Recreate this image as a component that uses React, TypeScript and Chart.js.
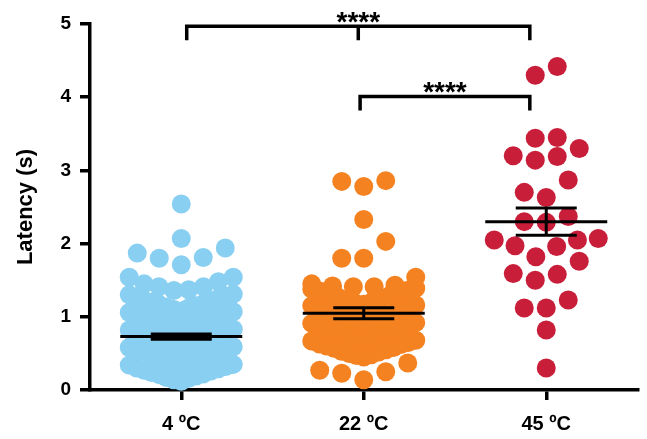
import React, { useEffect, useRef } from 'react';
import { Chart, registerables } from 'chart.js';

Chart.register(...registerables);

// ---------- data ----------
const categories = ['4 ºC', '22 ºC', '45 ºC'];

const latency4C = [
  0.12, 0.14, 0.16, 0.17, 0.19, 0.21, 0.22, 0.24, 0.26, 0.27, 0.29, 0.3, 0.32, 0.34, 0.35,
  0.36, 0.38, 0.39, 0.41, 0.42, 0.44, 0.45, 0.47, 0.48, 0.5, 0.51, 0.53, 0.54, 0.55, 0.57, 0.58, 0.59,
  0.6, 0.62, 0.63, 0.65, 0.66, 0.68, 0.69, 0.71, 0.72, 0.74, 0.75, 0.77, 0.78, 0.79, 0.81, 0.82, 0.83,
  0.84, 0.86, 0.87, 0.89, 0.9, 0.92, 0.93, 0.95, 0.96, 0.98, 0.99, 1.01, 1.02, 1.03, 1.05, 1.06, 1.07,
  1.08, 1.1, 1.12, 1.13, 1.15, 1.17, 1.18, 1.2, 1.22, 1.23, 1.25, 1.27, 1.28, 1.3, 1.31,
  1.36, 1.37, 1.41, 1.41, 1.45, 1.48, 1.54, 1.54,
  1.71, 1.8, 1.81, 1.87, 1.94,
  2.07, 2.54,
];

const latency22C = [
  0.14, 0.23, 0.25, 0.27, 0.37,
  0.45, 0.47, 0.48, 0.5, 0.52, 0.53, 0.55, 0.57, 0.58, 0.6, 0.62, 0.63, 0.65, 0.67, 0.68,
  0.69, 0.71, 0.72, 0.74, 0.76, 0.77, 0.79, 0.81, 0.82, 0.84, 0.86, 0.87, 0.89, 0.91, 0.92,
  0.93, 0.95, 0.96, 0.98, 1.0, 1.01, 1.03, 1.05, 1.06, 1.08, 1.1, 1.11, 1.13, 1.15, 1.16,
  1.17, 1.19, 1.21, 1.23, 1.25, 1.27, 1.29, 1.31, 1.33, 1.35, 1.36, 1.38, 1.39,
  1.41, 1.41, 1.42, 1.43, 1.45, 1.54,
  1.8, 1.8, 2.03,
  2.33,
  2.78, 2.85, 2.86,
];

const latency45C = [
  4.42, 4.3,
  3.44, 3.3, 3.45, 3.2, 3.14, 3.19,
  2.87, 2.63, 2.7,
  2.3, 2.29, 2.37,
  2.07, 2.05, 1.96, 1.97, 2.05,
  1.82, 1.76,
  1.59, 1.5, 1.58,
  1.23, 1.12, 1.12,
  0.82, 0.3,
];

const groupMeans = [0.73, 1.05, 2.3];
const groupSems = [0.035, 0.075, 0.185];

const yTicks = [0, 1, 2, 3, 4, 5];

// significance brackets (x in category units, y in seconds)
const bracketStart = [1.03, 1.98];
const bracketEnd = [2.91, 2.91];
const bracketMid: (number | null)[] = [1.97, null];
const bracketLevel = [4.97, 4.01];
const bracketLabel = ['****', '****'];

// ---------- styling / layout constants ----------
const pointColors = ['rgb(137,207,242)', 'rgb(245,130,32)', 'rgb(200,30,58)'];
const POINT_R = 9.5;
const ROW_SPANS = [0.24, 0.24, 0.3];
const MAX_GAP_PX = 22;
const MAX_SPAN_PX = 104;
const MEAN_HALF_PX = 61;
const CAP_HALF_PX = 30.5;
const FONT = '"Liberation Sans", Arial, Helvetica, sans-serif';

function swarmOffsets(values: number[], rowSpan: number, gapPx: number, maxSpanPx: number): number[] {
  const order = values.map((_, i) => i).sort((a, b) => values[a] - values[b]);
  const out = new Array(values.length).fill(0);
  let row: number[] = [];
  let start = -Infinity;
  const flush = () => {
    const n = row.length;
    const step = n > 1 ? Math.min(gapPx, maxSpanPx / (n - 1)) : 0;
    row.forEach((idx, k) => {
      let slot: number;
      if (n % 2 === 1) slot = k === 0 ? 0 : (k % 2 === 1 ? -1 : 1) * Math.ceil(k / 2);
      else slot = (k % 2 === 0 ? -1 : 1) * (Math.floor(k / 2) + 0.5);
      out[idx] = slot * step;
    });
    row = [];
  };
  for (const idx of order) {
    if (row.length && values[idx] >= start + rowSpan - 1e-9) flush();
    if (!row.length) start = values[idx];
    row.push(idx);
  }
  flush();
  return out;
}

const annotationPlugin = {
  id: 'annotations',
  afterDatasetsDraw(chart: any) {
    const { ctx, scales } = chart;
    const xs = scales.x;
    const ys = scales.y;
    ctx.save();
    ctx.strokeStyle = '#000';
    ctx.lineCap = 'butt';
    // mean +/- SEM
    ctx.lineWidth = 3;
    groupMeans.forEach((m, i) => {
      const cx = xs.getPixelForValue(i + 1);
      const ym = ys.getPixelForValue(m);
      const yHi = ys.getPixelForValue(m + groupSems[i]);
      const yLo = ys.getPixelForValue(m - groupSems[i]);
      ctx.beginPath();
      ctx.moveTo(cx - MEAN_HALF_PX, ym);
      ctx.lineTo(cx + MEAN_HALF_PX, ym);
      ctx.moveTo(cx, yHi);
      ctx.lineTo(cx, yLo);
      ctx.moveTo(cx - CAP_HALF_PX, yHi);
      ctx.lineTo(cx + CAP_HALF_PX, yHi);
      ctx.moveTo(cx - CAP_HALF_PX, yLo);
      ctx.lineTo(cx + CAP_HALF_PX, yLo);
      ctx.stroke();
    });
    // brackets
    ctx.lineWidth = 3.5;
    ctx.lineJoin = 'miter';
    const starSize = 28;
    bracketLevel.forEach((lvl, i) => {
      const x0 = xs.getPixelForValue(bracketStart[i]);
      const x1 = xs.getPixelForValue(bracketEnd[i]);
      const y = ys.getPixelForValue(lvl);
      const drop = 14;
      ctx.beginPath();
      ctx.moveTo(x0, y + drop);
      ctx.lineTo(x0, y);
      ctx.lineTo(x1, y);
      ctx.lineTo(x1, y + drop);
      const mid = bracketMid[i];
      if (mid !== null) {
        const xm = xs.getPixelForValue(mid);
        ctx.moveTo(xm, y);
        ctx.lineTo(xm, y + drop);
      }
      ctx.stroke();
      ctx.fillStyle = '#000';
      ctx.font = `bold ${starSize}px ${FONT}`;
      ctx.textAlign = 'center';
      ctx.textBaseline = 'alphabetic';
      const starCenter = y - 10.5;
      ctx.fillText(bracketLabel[i], (x0 + x1) / 2, starCenter + 0.55 * starSize);
    });
    ctx.restore();
  },
};

export default function App() {
  const ref = useRef<HTMLCanvasElement>(null);

  useEffect(() => {
    document.body.style.margin = '0';
    const canvas = ref.current;
    if (!canvas) return;
    const groups = [latency4C, latency22C, latency45C];
    const build = (pxPerUnit: number) =>
      groups.map((vals, gi) => {
        const offs = swarmOffsets(vals, ROW_SPANS[gi], MAX_GAP_PX, MAX_SPAN_PX);
        return vals.map((v, i) => ({ x: gi + 1 + offs[i] / pxPerUnit, y: v }));
      });
    const initial = build(184);

    const chart = new Chart(canvas, {
      type: 'scatter',
      data: {
        datasets: initial.map((pts, i) => ({
          label: categories[i],
          data: pts,
          backgroundColor: pointColors[i],
          borderWidth: 0,
          pointRadius: POINT_R,
          pointHoverRadius: POINT_R,
          clip: false as any,
        })),
      },
      options: {
        animation: false,
        responsive: false,
        maintainAspectRatio: false,
        devicePixelRatio: 1,
        layout: { padding: { top: 24, right: 5, left: 0, bottom: 0 } },
        plugins: { legend: { display: false }, tooltip: { enabled: false } },
        scales: {
          x: {
            type: 'linear',
            min: 0.5,
            max: 3.5,
            afterBuildTicks: (s: any) => {
              s.ticks = categories.map((_, i) => ({ value: i + 1 }));
            },
            afterFit: (s: any) => {
              s.height = 49;
            },
            ticks: {
              autoSkip: false,
              maxRotation: 0,
              callback: (v: any) => categories[Math.round(Number(v)) - 1] ?? '',
              color: '#000',
              font: { family: FONT, weight: 'bold', size: 20 },
              padding: 12,
            },
            grid: {
              display: true,
              drawOnChartArea: false,
              drawTicks: true,
              tickLength: 10,
              color: '#000',
              lineWidth: 3.5,
            },
            border: { display: true, color: '#000', width: 3.5 },
          },
          y: {
            type: 'linear',
            min: 0,
            max: 5,
            afterBuildTicks: (s: any) => {
              s.ticks = yTicks.map((v) => ({ value: v }));
            },
            afterFit: (s: any) => {
              s.width = 90;
            },
            ticks: {
              autoSkip: false,
              color: '#000',
              font: { family: FONT, weight: 'bold', size: 19 },
              padding: 9,
            },
            grid: {
              display: true,
              drawOnChartArea: false,
              drawTicks: true,
              tickLength: 10,
              color: '#000',
              lineWidth: 3.5,
            },
            border: { display: true, color: '#000', width: 3.5 },
            title: {
              display: true,
              text: 'Latency (s)',
              color: '#000',
              font: { family: FONT, weight: 'bold', size: 22 },
              padding: { top: 13, bottom: 0 },
            },
          },
        },
      } as any,
      plugins: [annotationPlugin],
    });

    const xs: any = chart.scales.x;
    const ppu = xs.getPixelForValue(2) - xs.getPixelForValue(1);
    const pts = build(ppu);
    chart.data.datasets.forEach((d: any, i: number) => {
      d.data = pts[i];
    });
    chart.update('none');

    return () => chart.destroy();
  }, []);

  return <canvas ref={ref} width={647} height={439} style={{ display: 'block' }} />;
}
